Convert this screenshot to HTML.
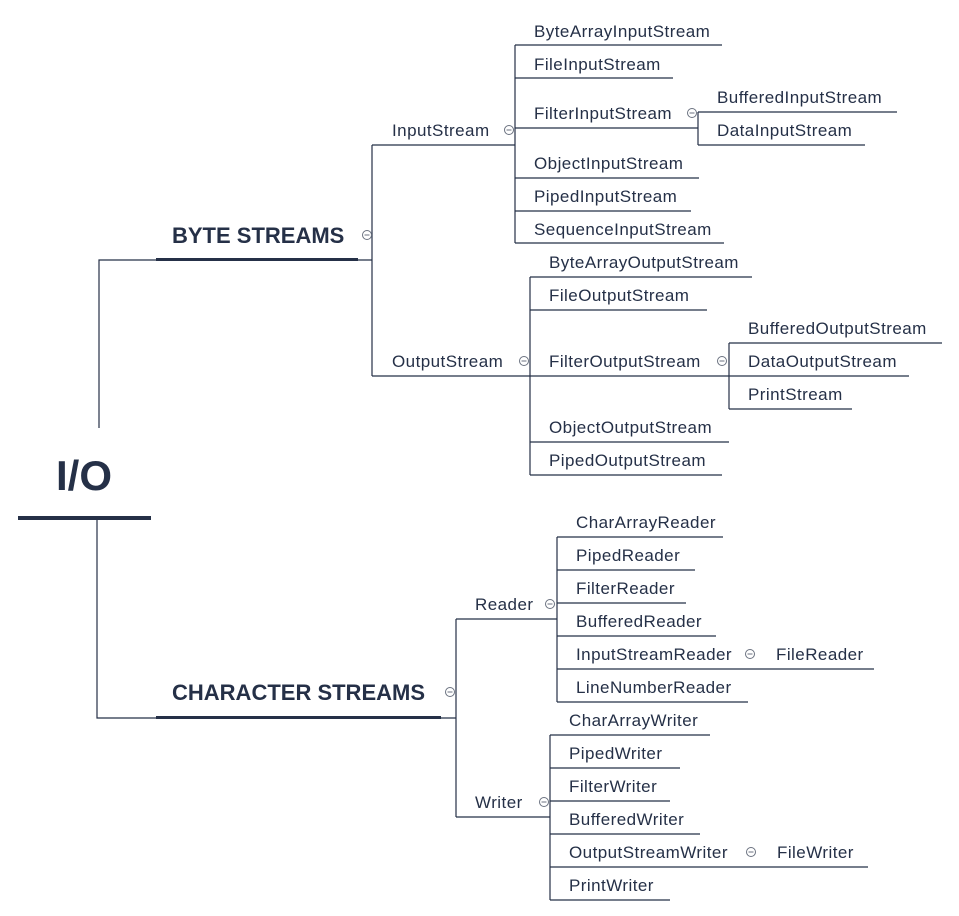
<!DOCTYPE html>
<html><head><meta charset="utf-8"><style>
html,body{margin:0;padding:0;background:#fff;}
svg{display:block;}
text{font-family:"Liberation Sans",sans-serif;fill:#253047;font-size:17px;letter-spacing:0.45px;}
.b{font-weight:bold;letter-spacing:0;}
</style></head><body>
<svg width="959" height="916" viewBox="0 0 959 916" xmlns="http://www.w3.org/2000/svg">
<g stroke="#253047" stroke-width="1.2" fill="none">
<path d="M99 428 V260 H156"/>
<path d="M97 520 V718 H156"/>
<path d="M358 260 H372 V145 M372 260 V376"/>
<path d="M372 145 H515 M372 376 H530"/>
<path d="M515 45 V243"/>
<path d="M515 45 H722 M515 78 H673 M515 128 H698 M515 178 H699 M515 211 H691 M515 243 H724"/>
<path d="M698 112 V145 M698 112 H897 M698 145 H865"/>
<path d="M530 277 V475"/>
<path d="M530 277 H752 M530 310 H707 M530 376 H729 M530 442 H729 M530 475 H722"/>
<path d="M729 343 V409 M729 343 H942 M729 376 H909 M729 409 H852"/>
<path d="M441 718 H456 V619 M456 718 V817"/>
<path d="M456 619 H557 M456 817 H550"/>
<path d="M557 537 V702"/>
<path d="M557 537 H723 M557 570 H695 M557 603 H686 M557 636 H716 M557 669 H874 M557 702 H748"/>
<path d="M550 735 V900"/>
<path d="M550 735 H710 M550 768 H680 M550 801 H670 M550 834 H700 M550 867 H868 M550 900 H670"/>
</g>
<rect x="18" y="516" width="133" height="4" fill="#253047"/>
<rect x="156" y="258" width="202" height="3" fill="#253047"/>
<rect x="156" y="716" width="285" height="3" fill="#253047"/>
<g stroke="#6b7280" stroke-width="1" fill="#fff">
<circle cx="367" cy="235" r="4.5"/><circle cx="509" cy="130" r="4.5"/><circle cx="692" cy="113" r="4.5"/>
<circle cx="524" cy="361" r="4.5"/><circle cx="722" cy="361" r="4.5"/>
<circle cx="450" cy="692" r="4.5"/><circle cx="550" cy="604" r="4.5"/><circle cx="750" cy="654" r="4.5"/>
<circle cx="544" cy="802" r="4.5"/><circle cx="751" cy="852" r="4.5"/>
</g>
<g stroke="#6b7280" stroke-width="1">
<path d="M364.5 235h5M506.5 130h5M689.5 113h5M521.5 361h5M719.5 361h5M447.5 692h5M547.5 604h5M747.5 654h5M541.5 802h5M748.5 852h5"/>
</g>
<text x="84" y="490" class="b" style="font-size:42px" text-anchor="middle">I/O</text>
<text x="172" y="243" class="b" style="font-size:22px">BYTE STREAMS</text>
<text x="172" y="700" class="b" style="font-size:22px">CHARACTER STREAMS</text>
<text x="392" y="136">InputStream</text>
<text x="392" y="367">OutputStream</text>
<text x="534" y="37">ByteArrayInputStream</text>
<text x="534" y="70">FileInputStream</text>
<text x="534" y="119">FilterInputStream</text>
<text x="534" y="169">ObjectInputStream</text>
<text x="534" y="202">PipedInputStream</text>
<text x="534" y="235">SequenceInputStream</text>
<text x="717" y="103">BufferedInputStream</text>
<text x="717" y="136">DataInputStream</text>
<text x="549" y="268">ByteArrayOutputStream</text>
<text x="549" y="301">FileOutputStream</text>
<text x="549" y="367">FilterOutputStream</text>
<text x="549" y="433">ObjectOutputStream</text>
<text x="549" y="466">PipedOutputStream</text>
<text x="748" y="334">BufferedOutputStream</text>
<text x="748" y="367">DataOutputStream</text>
<text x="748" y="400">PrintStream</text>
<text x="475" y="610">Reader</text>
<text x="475" y="808">Writer</text>
<text x="576" y="528">CharArrayReader</text>
<text x="576" y="561">PipedReader</text>
<text x="576" y="594">FilterReader</text>
<text x="576" y="627">BufferedReader</text>
<text x="576" y="660">InputStreamReader</text>
<text x="776" y="660">FileReader</text>
<text x="576" y="693">LineNumberReader</text>
<text x="569" y="726">CharArrayWriter</text>
<text x="569" y="759">PipedWriter</text>
<text x="569" y="792">FilterWriter</text>
<text x="569" y="825">BufferedWriter</text>
<text x="569" y="858">OutputStreamWriter</text>
<text x="777" y="858">FileWriter</text>
<text x="569" y="891">PrintWriter</text>
</svg>
</body></html>
